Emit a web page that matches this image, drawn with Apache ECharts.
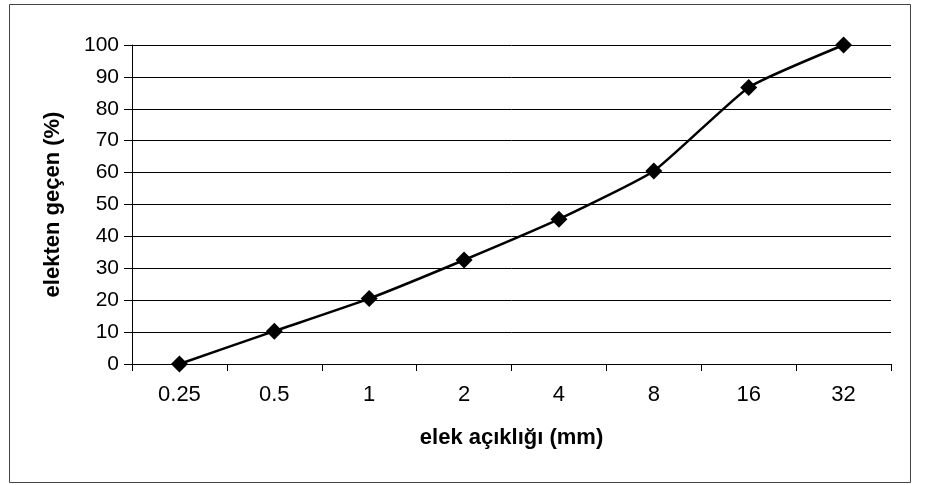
<!DOCTYPE html>
<html>
<head>
<meta charset="utf-8">
<script src="https://cdn.jsdelivr.net/npm/echarts@6/dist/echarts.min.js"></script>
<style>
  html, body { margin: 0; padding: 0; background: #fff; }
  #chart { width: 926px; height: 485px; }
</style>
</head>
<body>
<div id="chart"></div>
<script>
// elek açıklıkları (mm) ve elekten geçen yüzdeler
var sieveSizes = ['0.25', '0.5', '1', '2', '4', '8', '16', '32'];
var passing = [0, 10.3, 20.5, 32.6, 45.4, 60.5, 86.7, 100];

var chart = echarts.init(document.getElementById('chart'));
var font = 'Liberation Sans, Arial, sans-serif';

chart.setOption({
    animation: false,
    backgroundColor: '#fff',
    graphic: [{
        type: 'rect',
        shape: { x: 9.5, y: 4.5, width: 901, height: 478 },
        style: { fill: 'none', stroke: '#444', lineWidth: 1 },
        silent: true
    }],
    grid: { left: 132, right: 35, top: 45, bottom: 121 },
    xAxis: {
        type: 'category',
        data: sieveSizes,
        boundaryGap: true,
        name: 'elek açıklığı (mm)',
        nameLocation: 'middle',
        nameGap: 63,
        nameTextStyle: { fontFamily: font, fontSize: 22, fontWeight: 'bold', color: '#000' },
        axisLine: { lineStyle: { color: '#000', width: 1 } },
        axisTick: { show: true, length: 7, lineStyle: { color: '#000' } },
        axisLabel: { fontFamily: font, fontSize: 22, color: '#000', margin: 20 },
        splitLine: { show: false }
    },
    yAxis: {
        type: 'value',
        min: 0,
        max: 100,
        interval: 10,
        name: 'elekten geçen (%)',
        nameLocation: 'middle',
        nameGap: 68,
        nameTextStyle: { fontFamily: font, fontSize: 22, fontWeight: 'bold', color: '#000' },
        axisLine: { show: true, lineStyle: { color: '#000', width: 1 } },
        axisTick: { show: true, length: 8, lineStyle: { color: '#000' } },
        axisLabel: { fontFamily: font, fontSize: 21, color: '#000', margin: 13 },
        splitLine: { show: true, lineStyle: { color: '#000', width: 1 } }
    },
    series: [{
        type: 'line',
        data: passing,
        smooth: 0.15,
        symbol: 'diamond',
        symbolSize: 17,
        itemStyle: { color: '#000' },
        lineStyle: { color: '#000', width: 2.5 }
    }]
});
</script>
</body>
</html>
